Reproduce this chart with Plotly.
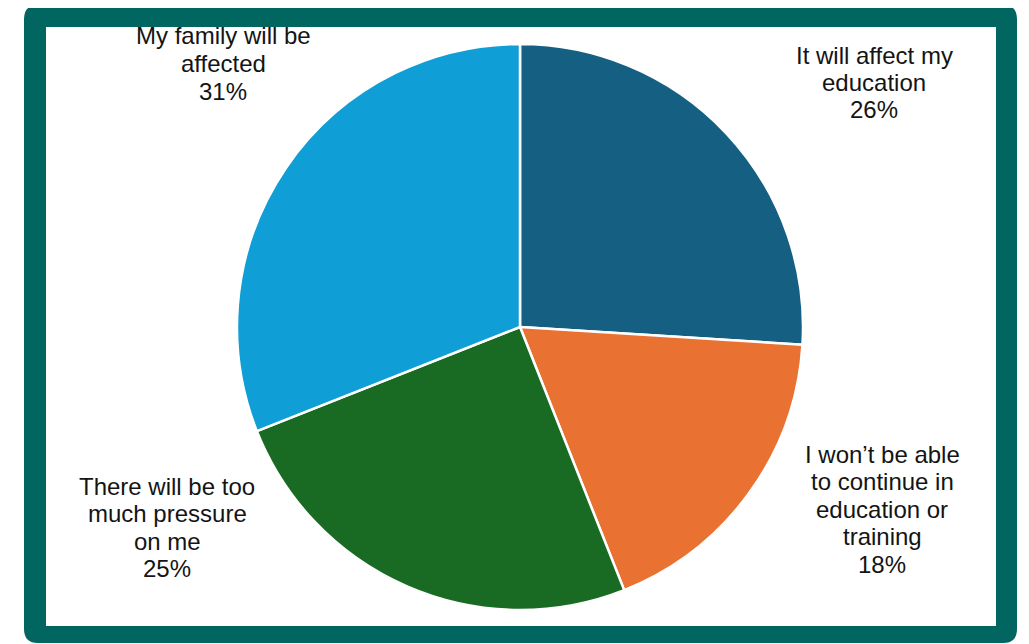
import plotly.graph_objects as go

# ---- data ----
categories = [
    "It will affect my education",
    "I won’t be able to continue in education or training",
    "There will be too much pressure on me",
    "My family will be affected",
]
label_lines = [
    ["It will affect my", "education"],
    ["I won’t be able", "to continue in", "education or", "training"],
    ["There will be too", "much pressure", "on me"],
    ["My family will be", "affected"],
]
values = [26, 18, 25, 31]
colors = ["#156082", "#E97132", "#196B24", "#0F9ED5"]

# page offset of the plot div (body margin) is 8px
OFF = 8
W, H = 1029 - OFF, 644 - OFF

def px(x):
    return (x - OFF) / W

def py(y):
    return 1 - (y - OFF) / H

CX, CY, R = 520, 327, 283

fig = go.Figure()
fig.add_trace(go.Pie(
    labels=categories,
    values=values,
    sort=False,
    direction="clockwise",
    rotation=0,
    textinfo="none",
    hoverinfo="label+percent",
    marker=dict(colors=colors, line=dict(color="white", width=2.5)),
    domain=dict(x=[px(CX - R), px(CX + R)], y=[py(CY + R), py(CY - R)]),
    showlegend=False,
))

# label annotations: (center x, first line center y) in page pixels
label_pos = [(874, 55), (882, 454), (167, 486), (223, 36)]
LINE = 27.5
total = sum(values)
annotations = []
for lines, v, (lx, ly) in zip(label_lines, values, label_pos):
    all_lines = lines + [f"{round(100 * v / total)}%"]
    for i, t in enumerate(all_lines):
        annotations.append(dict(
            x=px(lx), y=py(ly + i * LINE), xref="paper", yref="paper",
            text=t, showarrow=False, xanchor="center", yanchor="middle",
            font=dict(family="Liberation Sans, Arial, sans-serif", size=24, color="#141414"),
        ))

# rounded outer border
x0, x1, y0, y1, r = 24, 1017, 5, 643, 14
rx, ry = r / W, r / H
X0, X1, Y0, Y1 = px(x0), px(x1), py(y1), py(y0)
path = (
    f"M {X0+rx},{Y1} L {X1-rx},{Y1} Q {X1},{Y1} {X1},{Y1-ry} "
    f"L {X1},{Y0+ry} Q {X1},{Y0} {X1-rx},{Y0} "
    f"L {X0+rx},{Y0} Q {X0},{Y0} {X0},{Y0+ry} "
    f"L {X0},{Y1-ry} Q {X0},{Y1} {X0+rx},{Y1} Z"
)
shapes = [
    dict(type="path", path=path, xref="paper", yref="paper",
         fillcolor="#00665F", line=dict(width=0), layer="below"),
    dict(type="rect", xref="paper", yref="paper",
         x0=px(46), x1=px(996), y0=py(626), y1=py(27),
         fillcolor="white", line=dict(width=0), layer="below"),
]

fig.update_layout(
    width=W, height=H,
    margin=dict(l=0, r=0, t=0, b=0),
    paper_bgcolor="white",
    plot_bgcolor="white",
    shapes=shapes,
    annotations=annotations,
)

fig.write_html("out.html")
